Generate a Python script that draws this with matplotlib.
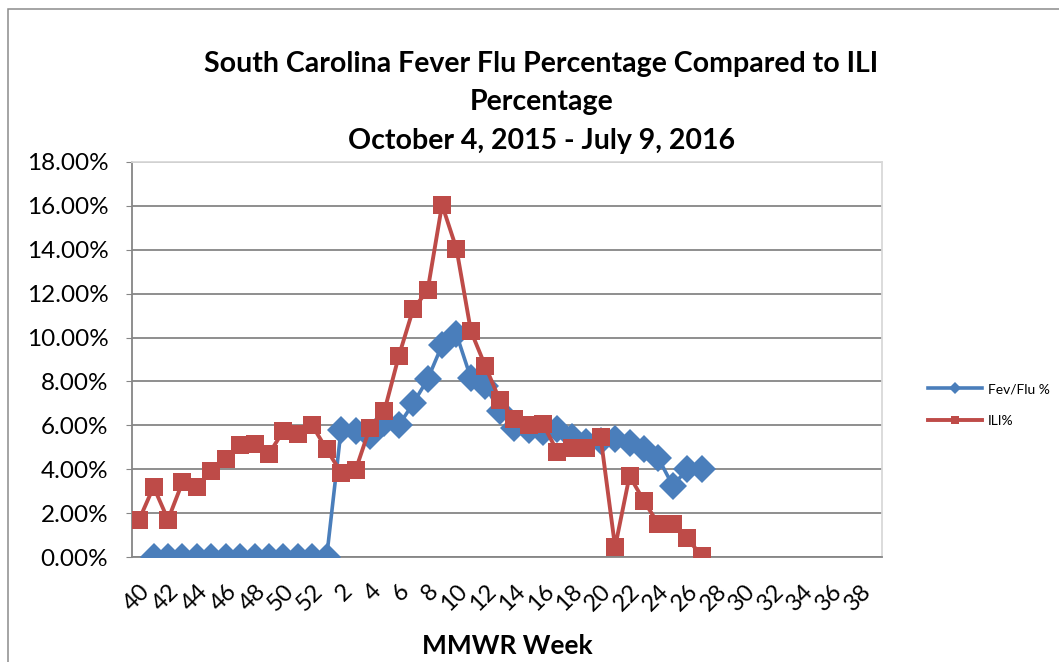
import matplotlib
matplotlib.use("Agg")
import matplotlib.pyplot as plt
from matplotlib.patches import Rectangle
from matplotlib.ticker import FuncFormatter, MultipleLocator

plt.rcParams['font.family'] = ['Lato', 'DejaVu Sans']

# MMWR weeks 40-52 of 2015, then 1-39 of 2016
weeks = list(range(40, 53)) + list(range(1, 40))

# Fever/flu % (None = no report)
fev_flu = [None, 0, 0, 0, 0, 0, 0, 0, 0, 0, 0, 0, 0, 0,
           5.8, 5.75, 5.5, 6.1, 6.0, 7.0, 8.1, 9.65, 10.15, 8.15, 7.8,
           6.65, 5.9, 5.8, 5.7, 5.85, 5.45, 5.25, 5.3, 5.4, 5.2, 4.9,
           4.5, 3.25, 4.0, 4.0]

# ILI %
ili = [1.7, 3.2, 1.7, 3.4, 3.2, 3.9, 4.45, 5.1, 5.15, 4.7, 5.75, 5.6, 6.0,
       4.9, 3.85, 3.95, 5.9, 6.65, 9.15, 11.3, 12.15, 16.05, 14.05, 10.3,
       8.7, 7.15, 6.3, 6.0, 6.05, 4.8, 4.95, 4.95, 5.45, 0.45, 3.7, 2.55,
       1.5, 1.5, 0.85, 0.05]

blue = '#4A7EBB'
red = '#BE4B48'
grid_col = '#868686'

fig = plt.figure(figsize=(10.59, 6.62), dpi=100)
ax = fig.add_axes([0.1246, 0.1586, 0.7082, 0.5967])

x_fev = [i for i, v in enumerate(fev_flu) if v is not None]
y_fev = [v for v in fev_flu if v is not None]
x_ili = list(range(len(ili)))

ax.plot(x_fev, y_fev, color=blue, lw=2.6, marker='D', ms=14,
        markeredgewidth=0, label='Fev/Flu %', zorder=3)
ax.plot(x_ili, ili, color=red, lw=2.8, marker='s', ms=13.5,
        markeredgewidth=0, label='ILI%', zorder=4)

ax.set_xlim(-0.5, len(weeks) - 0.5)
ax.set_ylim(0, 18)
ax.yaxis.set_major_locator(MultipleLocator(2))
ax.yaxis.set_major_formatter(FuncFormatter(lambda v, p: f'{v:.2f}%'))
ax.grid(axis='y', color=grid_col, lw=1.3)
ax.set_axisbelow(True)

tick_pos = list(range(0, len(weeks), 2))
ax.set_xticks(tick_pos)
ax.set_xticklabels([str(weeks[i]) for i in tick_pos], rotation=45,
                   ha='right', rotation_mode='anchor')
ax.tick_params(axis='x', length=0, pad=17, labelsize=17)
ax.tick_params(axis='y', length=4, color=grid_col, pad=13, labelsize=17.5)

for s in ['left', 'bottom']:
    ax.spines[s].set_color(grid_col)
    ax.spines[s].set_linewidth(1.3)
for s in ['top', 'right']:
    ax.spines[s].set_color('#D9D9D9')
    ax.spines[s].set_linewidth(1.3)

ax.set_xlabel('MMWR Week', fontsize=19, fontweight='bold', labelpad=14)

title_lines = ['South Carolina Fever Flu Percentage Compared to ILI',
               'Percentage',
               'October 4, 2015 - July 9, 2016']
for line, yy in zip(title_lines, [0.903, 0.846, 0.787]):
    fig.text(0.511, yy, line, ha='center', va='center',
             fontsize=20.5, fontweight='bold')

ax.legend(loc='center left', bbox_to_anchor=(1.045, 0.385), frameon=False,
          fontsize=10, handlelength=3.9, handletextpad=0.4, labelspacing=1.4,
          markerscale=0.45)

fig.patches.append(Rectangle((8 / 1059, -0.1), 1.2, 1.1 - 9 / 662,
                             transform=fig.transFigure, fill=False,
                             edgecolor='#8C8C8C', lw=1.1))

fig.savefig('out.png', dpi=100)
